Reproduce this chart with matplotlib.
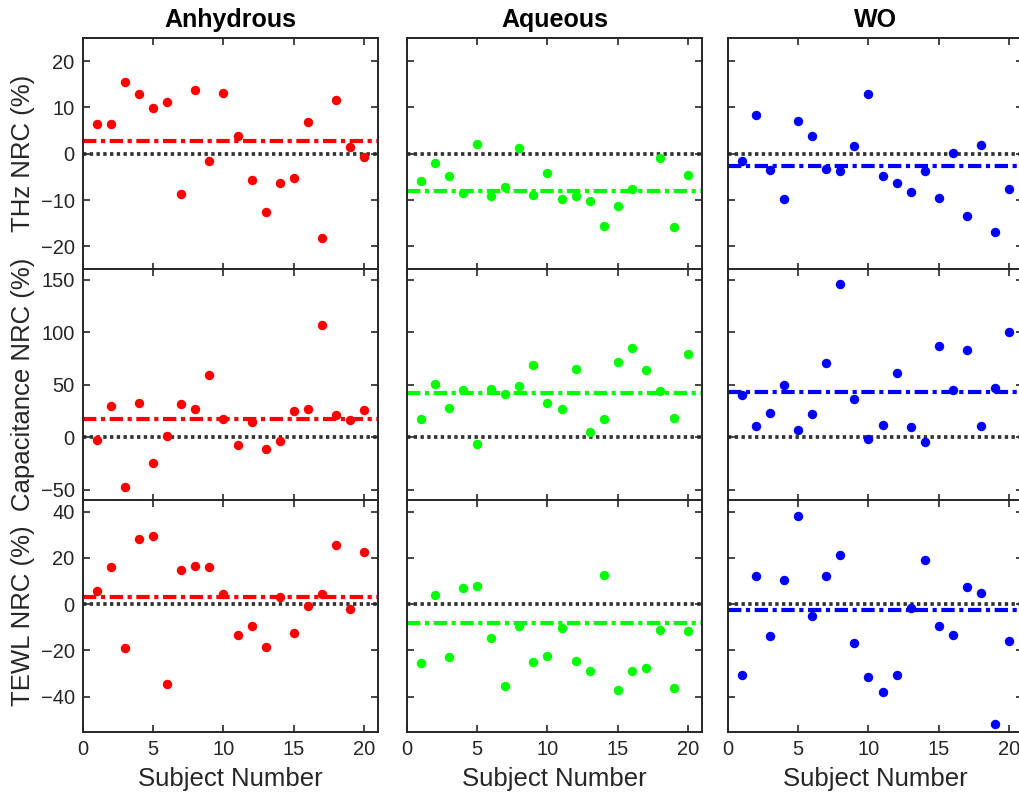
import matplotlib
matplotlib.use("Agg")
import matplotlib.pyplot as plt

plt.rcParams['font.family'] = ['Liberation Sans', 'DejaVu Sans']

# data
subjects = list(range(1, 21))
groups = ["Anhydrous", "Aqueous", "WO"]
group_colors = ["#ff0000", "#00ff00", "#0000ff"]
row_labels = ["THz NRC (%)", "Capacitance NRC (%)", "TEWL NRC (%)"]

thz_anh = [6.5, 6.5, 15.4, 13.0, 9.9, 11.2, -8.8, 13.7, -1.5, 13.2, 3.9, -5.6, -12.6, -6.3, -5.3, 6.8, -18.2, 11.7, 1.4, -0.6]
thz_aq = [-5.8, -2.0, -4.7, -8.4, 2.2, -9.2, -7.2, 1.3, -9.0, -4.2, -9.7, -9.2, -10.3, -15.5, -11.3, -7.7, -30.0, -0.9, -15.8, -4.5]
thz_wo = [-1.5, 8.4, -3.5, -9.7, 7.1, 3.8, -3.2, -3.7, 1.7, 13.0, -4.8, -6.3, -8.2, -3.7, -9.5, 0.1, -13.4, 1.9, -17.0, -7.6]
cap_anh = [-2.2, 30.1, -47.2, 32.3, -24.1, 1.3, 31.6, 26.6, 59.5, 17.7, -7.3, 14.6, -11.4, -3.8, 25.0, 26.9, 106.6, 20.9, 16.8, 26.3]
cap_aq = [17.4, 50.3, 27.5, 44.6, -6.3, 46.2, 40.8, 48.4, 69.0, 32.3, 26.9, 65.2, 5.1, 17.7, 71.8, 85.1, 64.2, 43.7, 18.0, 78.8]
cap_wo = [39.9, 11.1, 22.8, 49.7, 6.6, 21.8, 70.6, 146.2, 36.4, -1.3, 11.7, 61.4, 9.8, -4.1, 87.0, 45.3, 83.2, 10.8, 47.2, 100.0]
tewl_anh = [5.7, 16.2, -18.8, 28.3, 29.6, -34.3, 14.8, 16.7, 15.9, 4.6, -13.5, -9.3, -18.4, 2.9, -12.3, -0.9, 4.2, 25.7, -1.9, 22.6]
tewl_aq = [-25.4, 3.8, -22.8, 7.0, 7.7, -14.8, -35.4, -9.3, -25.0, -22.2, -10.4, -24.4, -28.7, 12.8, -37.0, -28.9, -27.7, -11.3, -36.0, -11.5]
tewl_wo = [-30.6, 12.3, -13.9, 10.3, 37.9, -4.9, 12.3, 21.2, -16.8, -31.3, -38.0, -30.5, -1.6, 18.9, -9.6, -13.2, 7.4, 4.8, -51.8, -16.0]

thz_means = [2.8, -8.1, -2.7]
cap_means = [17.1, 42.4, 42.7]
tewl_means = [2.9, -8.1, -2.6]

rows = [[thz_anh, thz_aq, thz_wo], [cap_anh, cap_aq, cap_wo], [tewl_anh, tewl_aq, tewl_wo]]
means = [thz_means, cap_means, tewl_means]
ylims = [(-25, 25), (-60, 160), (-55, 45)]
yticks = [[-20, -10, 0, 10, 20], [-50, 0, 50, 100, 150], [-40, -20, 0, 20, 40]]

W, H = 1019, 796
fig = plt.figure(figsize=(W / 100, H / 100), dpi=100)

col_left = [83, 407, 728]
ax_w = 295
row_bottom = [269.5, 500.5, 731.5]
ax_h = 231.5
axis_col = "#262626"

for r in range(3):
    for c in range(3):
        ax = fig.add_axes([col_left[c] / W, (H - row_bottom[r]) / H, ax_w / W, ax_h / H])
        ax.axhline(0, color="#333333", lw=2.7, ls=(0, (0.9, 0.9)), zorder=1)
        ax.axhline(means[r][c], color=group_colors[c], lw=3.0, ls=(0, (3.2, 1.1, 1.0, 1.1)), zorder=2)
        ax.plot(subjects, rows[r][c], "o", color=group_colors[c], ms=6.8, mec="none", zorder=3)
        ax.set_xlim(0, 21)
        ax.set_ylim(*ylims[r])
        ax.set_xticks([0, 5, 10, 15, 20])
        ax.set_yticks(yticks[r])
        ax.tick_params(direction="in", top=True, right=True, length=5, width=1.2,
                       labelsize=14.5, colors=axis_col, pad=6)
        for s in ax.spines.values():
            s.set_linewidth(1.4)
            s.set_color(axis_col)
        if r < 2:
            ax.set_xticklabels([])
        else:
            ax.set_xlabel("Subject Number", fontsize=18.5, color=axis_col, labelpad=6)
        if c > 0:
            ax.set_yticklabels([])
        else:
            ax.set_ylabel(row_labels[r], fontsize=18.5, color=axis_col, labelpad=4)
        if r == 0:
            ax.set_title(groups[c], fontsize=18, fontweight="bold", pad=8)

fig.savefig("out.png", dpi=100)
